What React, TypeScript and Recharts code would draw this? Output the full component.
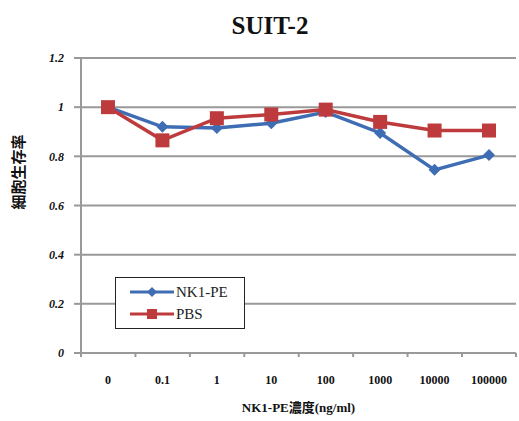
import React from 'react';
import { LineChart, Line, XAxis, YAxis, CartesianGrid, Label } from 'recharts';

const categories = ['0', '0.1', '1', '10', '100', '1000', '10000', '100000'];
const nk1pe = [1.0, 0.92, 0.915, 0.935, 0.98, 0.895, 0.745, 0.805];
const pbs = [1.0, 0.865, 0.955, 0.97, 0.99, 0.94, 0.905, 0.905];
const yTicks = [0, 0.2, 0.4, 0.6, 0.8, 1, 1.2];
const seriesNames = ['NK1-PE', 'PBS'];

const data = categories.map((c, i) => ({ name: c, nk1pe: nk1pe[i], pbs: pbs[i] }));

const BLUE = '#3f6db3';
const RED = '#be3b3d';
const HALF_BAND = 27;
const X_TICK_MARGIN = 22;

const Diamond = (props: any) => {
  const { cx, cy } = props;
  if (cx == null || cy == null) return null;
  const r = 6;
  return <path d={`M${cx},${cy - r}L${cx + r},${cy}L${cx},${cy + r}L${cx - r},${cy}Z`} fill={BLUE} />;
};

const Square = (props: any) => {
  const { cx, cy } = props;
  if (cx == null || cy == null) return null;
  const s = 7;
  return <rect x={cx - s} y={cy - s} width={2 * s} height={2 * s} fill={RED} />;
};

const XTick = (props: any) => {
  const { x, y, payload, index } = props;
  const axisY = y - X_TICK_MARGIN;
  return (
    <g>
      <line x1={x - HALF_BAND} y1={axisY} x2={x - HALF_BAND} y2={axisY + 4} stroke="#999" strokeWidth={2} />
      {index === categories.length - 1 && (
        <line x1={x + HALF_BAND} y1={axisY} x2={x + HALF_BAND} y2={axisY + 4} stroke="#999" strokeWidth={2} />
      )}
      <text
        x={x}
        y={y}
        dy="0.71em"
        textAnchor="middle"
        fill="#111"
        fontSize={12}
        fontWeight="bold"
        fontFamily='"Liberation Serif", serif'
      >
        {payload.value}
      </text>
    </g>
  );
};

const YLabel = () => (
  <text
    x={17}
    y={172}
    transform="rotate(-90 17 172)"
    textAnchor="middle"
    dominantBaseline="central"
    fill="#111"
    fontSize={15}
    fontWeight="bold"
    fontFamily='"Noto Sans CJK JP", sans-serif'
  >
    細胞生存率
  </text>
);

const LegendBox = () => (
  <div
    style={{
      position: 'absolute',
      left: 115,
      top: 277,
      width: 130,
      height: 52,
      border: '1.5px solid #222',
      background: '#fff',
      boxSizing: 'border-box',
      fontFamily: '"Liberation Serif", "Times New Roman", serif',
      fontSize: 15,
      color: '#222',
      padding: '3px 0 0 14px',
    }}
  >
    {[{ c: BLUE, n: seriesNames[0], m: 'd' }, { c: RED, n: seriesNames[1], m: 's' }].map((it) => (
      <div key={it.n} style={{ display: 'flex', alignItems: 'center', height: 22 }}>
        <svg width={44} height={14}>
          <line x1={0} y1={7} x2={44} y2={7} stroke={it.c} strokeWidth={3} />
          {it.m === 'd' ? (
            <path d="M22,2L27,7L22,12L17,7Z" fill={it.c} />
          ) : (
            <rect x={17} y={2} width={10} height={10} fill={it.c} />
          )}
        </svg>
        <span style={{ marginLeft: 2 }}>{it.n}</span>
      </div>
    ))}
  </div>
);

const fmt = (v: number) => (v === 0 ? '0' : String(v));

export default function App() {
  return (
    <div style={{ position: 'absolute', left: 0, top: 0, width: 519, height: 421, background: '#fff' }}>
      <div
        style={{
          position: 'absolute',
          left: 0,
          width: 540,
          top: 12,
          textAlign: 'center',
          fontFamily: '"Liberation Serif", "Times New Roman", serif',
          fontWeight: 'bold',
          fontSize: 25,
          color: '#111',
        }}
      >
        SUIT-2
      </div>
      <LineChart width={519} height={421} data={data} margin={{ top: 58, right: 3, bottom: 0, left: 0 }}>
        <CartesianGrid vertical={false} stroke="#999" strokeWidth={2} />
        <XAxis
          dataKey="name"
          height={68}
          stroke="#999"
          strokeWidth={2}
          tickLine={false}
          tickSize={0}
          tickMargin={X_TICK_MARGIN}
          padding={{ left: HALF_BAND, right: HALF_BAND }}
          interval={0}
          tick={<XTick />}
        >
          <Label
            value="NK1-PE濃度(ng/ml)"
            position="insideBottom"
            offset={9}
            style={{ fill: '#111', fontSize: 13, fontWeight: 'bold', fontFamily: '"Liberation Serif", "Noto Sans CJK JP", serif' }}
          />
        </XAxis>
        <YAxis
          width={81}
          domain={[0, 1.2]}
          ticks={yTicks}
          tickFormatter={fmt}
          stroke="#999"
          strokeWidth={2}
          tickSize={7}
          tickMargin={10}
          interval={0}
          tick={{ fill: '#111', fontSize: 12, fontWeight: 'bold', fontStyle: 'italic', fontFamily: '"Liberation Serif", serif' }}
        >
          <Label content={<YLabel />} />
        </YAxis>
        <Line dataKey="nk1pe" name={seriesNames[0]} stroke={BLUE} strokeWidth={3.5} dot={<Diamond />} activeDot={false} isAnimationActive={false} />
        <Line dataKey="pbs" name={seriesNames[1]} stroke={RED} strokeWidth={3.5} dot={<Square />} activeDot={false} isAnimationActive={false} />
      </LineChart>
      <LegendBox />
    </div>
  );
}
